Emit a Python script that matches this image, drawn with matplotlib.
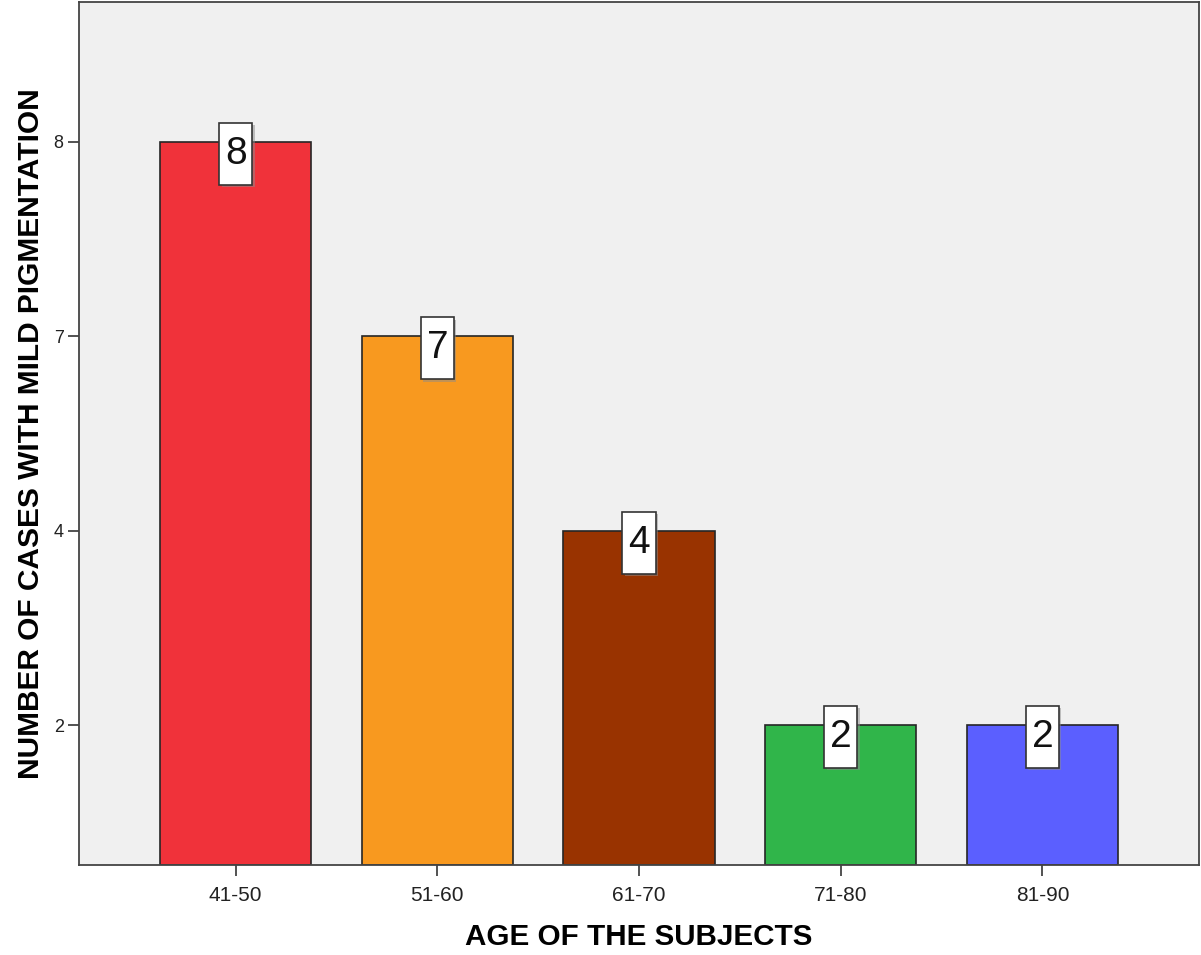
import matplotlib
matplotlib.use("Agg")
import matplotlib.pyplot as plt
from matplotlib.patches import Rectangle

plt.rcParams["font.family"] = ["Liberation Sans", "DejaVu Sans"]

# age bands and number of cases
age_groups = ["41-50", "51-60", "61-70", "71-80", "81-90"]
cases = [8, 7, 4, 2, 2]
bar_colors = ["#F0323A", "#F8991F", "#993300", "#30B54A", "#5B5FFF"]

# the value axis is drawn as an ordinal scale: one equal step per distinct count
levels = sorted(set(cases))
level_pos = {v: i for i, v in enumerate(levels)}
margin = 0.72

fig = plt.figure(figsize=(12.01, 9.55), dpi=100)
ax = fig.add_axes([0.0658, 0.0942, 0.9326, 0.9037])
ax.set_facecolor("#F0F0F0")

xs = list(range(len(age_groups)))
heights = [level_pos[v] + margin for v in cases]
ax.bar(xs, heights, bottom=-margin, width=0.75, color=bar_colors,
       edgecolor="#262626", linewidth=1.2, zorder=2)

# value boxes sitting on top of each bar
box_w, box_up, box_down = 0.165, 0.098, 0.221
for x, v in zip(xs, cases):
    top = level_pos[v]
    shadow = Rectangle((x - box_w / 2 + 0.012, top - box_down - 0.012), box_w, box_up + box_down,
                       facecolor="#8c8c8c", edgecolor="none", alpha=0.5, zorder=3)
    box = Rectangle((x - box_w / 2, top - box_down), box_w, box_up + box_down,
                    facecolor="white", edgecolor="#333333", linewidth=1.2, zorder=4)
    ax.add_patch(shadow)
    ax.add_patch(box)
    ax.text(x, top - (box_down - box_up) / 2, str(v), ha="center", va="center",
            fontsize=28, color="#111111", zorder=5)

ax.set_xlim(-0.777, len(age_groups) - 1 + 0.777)
ax.set_ylim(-margin, len(levels) - 1 + margin)
ax.set_xticks(xs)
ax.set_xticklabels(age_groups, fontsize=15, color="#222222")
ax.set_yticks(range(len(levels)))
ax.set_yticklabels([str(v) for v in levels], fontsize=13, color="#222222")
ax.tick_params(axis="both", direction="out", length=8, width=1.3, color="#444444")
ax.tick_params(axis="x", pad=7)
ax.tick_params(axis="y", pad=3)

for sp in ax.spines.values():
    sp.set_color("#444444")
    sp.set_linewidth(1.3)

ax.set_xlabel("AGE OF THE SUBJECTS", fontsize=21.3, fontweight="bold", labelpad=13)
ax.set_ylabel("NUMBER OF CASES WITH MILD PIGMENTATION", fontsize=21.5, fontweight="bold", labelpad=6)

fig.savefig("out.png", dpi=100, facecolor="white")
